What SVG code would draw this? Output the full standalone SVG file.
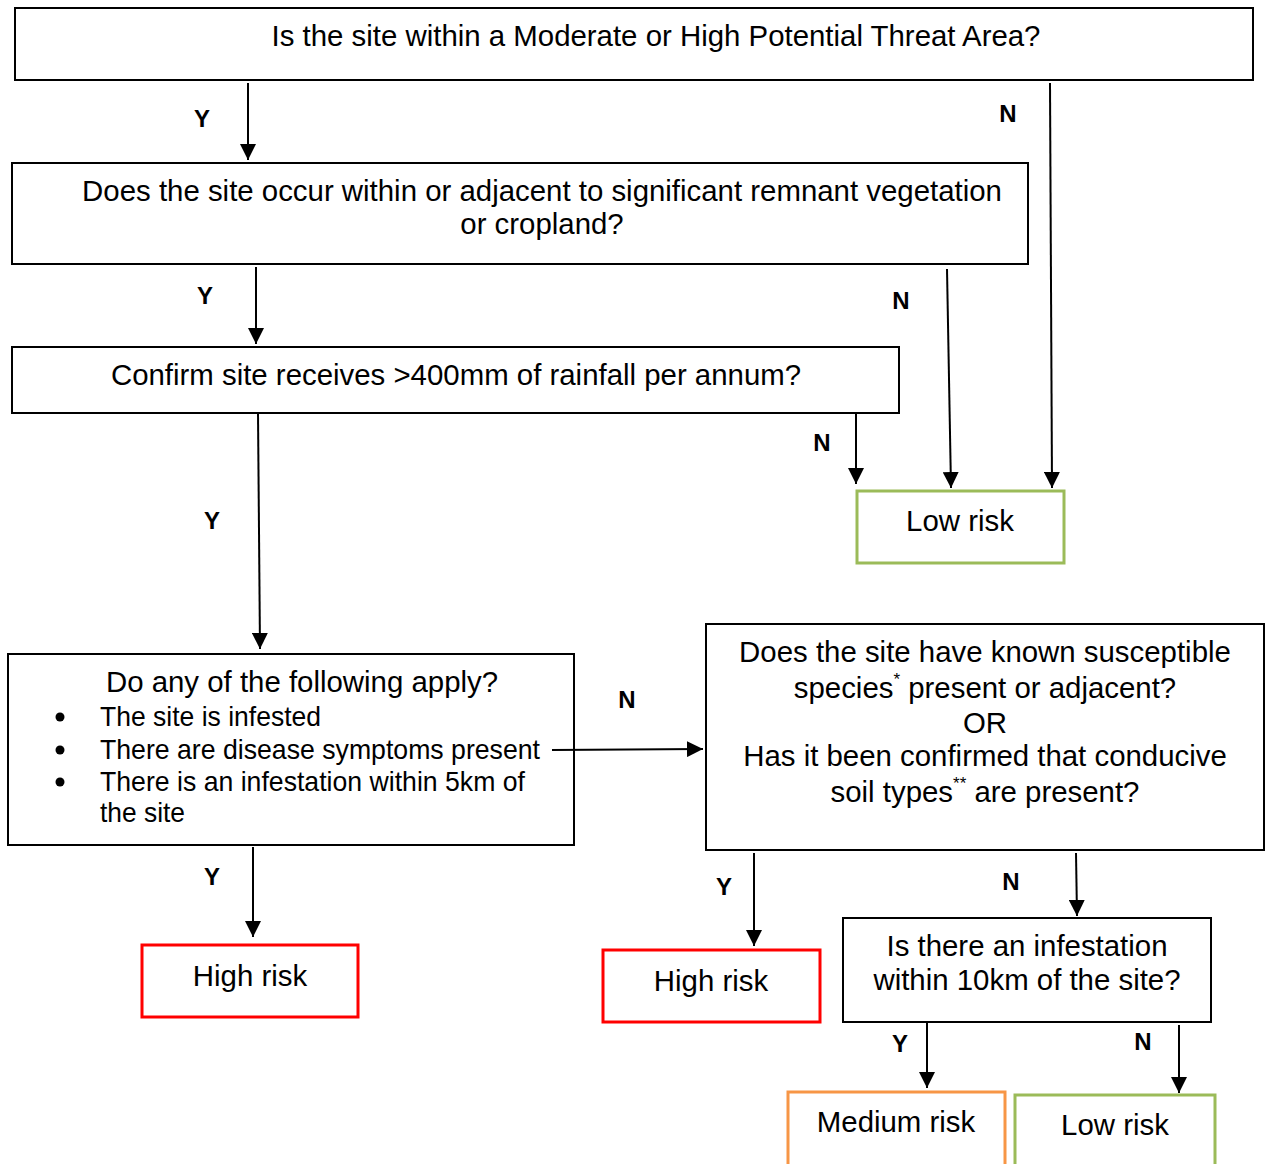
<svg xmlns="http://www.w3.org/2000/svg" width="1265" height="1164" viewBox="0 0 1265 1164">
<style>
text{font-family:"Liberation Sans",Arial,sans-serif;fill:#000}
.t{font-size:29.4px}
.c{text-anchor:middle}
.lbl{font-size:24px;font-weight:bold;text-anchor:middle}
.box{fill:#fff;stroke:#000;stroke-width:2}
.red{fill:#fff;stroke:#ff0000;stroke-width:3}
.green{fill:#fff;stroke:#9bbb59;stroke-width:3}
.orange{fill:#fff;stroke:#f79646;stroke-width:3}
.ln{stroke:#000;stroke-width:2;fill:none;marker-end:url(#ah)}
.sup{font-size:17px}
.b{font-size:28px}
</style>
<defs>
<marker id="ah" markerUnits="userSpaceOnUse" markerWidth="16" markerHeight="16" viewBox="0 0 16 16" refX="16" refY="8" orient="auto">
<path d="M0,0 L16,8 L0,16 Z" fill="#000"/>
</marker>
</defs>
<rect width="1265" height="1164" fill="#fff"/>
<g id="q1">
<rect class="box" x="15" y="8" width="1238" height="72"/>
<text class="t c" x="656" y="46">Is the site within a Moderate or High Potential Threat Area?</text>
</g>
<g id="q2">
<rect class="box" x="12" y="163" width="1016" height="101"/>
<text class="t c" x="542" y="201">Does the site occur within or adjacent to significant remnant vegetation</text>
<text class="t c" x="542" y="234">or cropland?</text>
</g>
<g id="q3">
<rect class="box" x="12" y="347" width="887" height="66"/>
<text class="t c" x="456" y="385">Confirm site receives &gt;400mm of rainfall per annum?</text>
</g>
<g id="low1">
<rect class="green" x="857" y="491" width="207" height="72"/>
<text class="t c" x="960" y="531">Low risk</text>
</g>
<g id="q4">
<rect class="box" x="8" y="654" width="566" height="191"/>
<text class="t c" x="302" y="692">Do any of the following apply?</text>
<circle cx="60" cy="717" r="4.5"/>
<circle cx="60" cy="750" r="4.5"/>
<circle cx="60" cy="782" r="4.5"/>
<text class="b" x="100" y="726" textLength="221" lengthAdjust="spacingAndGlyphs">The site is infested</text>
<text class="b" x="100" y="759" textLength="440" lengthAdjust="spacingAndGlyphs">There are disease symptoms present</text>
<text class="b" x="100" y="791" textLength="425" lengthAdjust="spacingAndGlyphs">There is an infestation within 5km of</text>
<text class="b" x="100" y="822" textLength="85" lengthAdjust="spacingAndGlyphs">the site</text>
</g>
<g id="q5">
<rect class="box" x="706" y="624" width="558" height="226"/>
<text class="t c" x="985" y="662">Does the site have known susceptible</text>
<text class="t c" x="985" y="698">species<tspan class="sup" dy="-13">*</tspan><tspan dy="13"> present or adjacent?</tspan></text>
<text class="t c" x="985" y="733">OR</text>
<text class="t c" x="985" y="766">Has it been confirmed that conducive</text>
<text class="t c" x="985" y="802">soil types<tspan class="sup" dy="-13">**</tspan><tspan dy="13"> are present?</tspan></text>
</g>
<g id="high1">
<rect class="red" x="142" y="945" width="216" height="72"/>
<text class="t c" x="250" y="986">High risk</text>
</g>
<g id="high2">
<rect class="red" x="603" y="950" width="217" height="72"/>
<text class="t c" x="711" y="991">High risk</text>
</g>
<g id="q6">
<rect class="box" x="843" y="918" width="368" height="104"/>
<text class="t c" x="1027" y="956">Is there an infestation</text>
<text class="t c" x="1027" y="990">within 10km of the site?</text>
</g>
<g id="medium">
<rect class="orange" x="788" y="1092" width="217" height="80"/>
<text class="t c" x="896" y="1132">Medium risk</text>
</g>
<g id="low2">
<rect class="green" x="1015" y="1095" width="200" height="80"/>
<text class="t c" x="1115" y="1135">Low risk</text>
</g>
<g id="connectors">
<line class="ln" x1="248" y1="83" x2="248" y2="160"/>
<line class="ln" x1="1050" y1="83" x2="1052" y2="488"/>
<line class="ln" x1="256" y1="267" x2="256" y2="344"/>
<line class="ln" x1="947" y1="269" x2="951" y2="488"/>
<line class="ln" x1="856" y1="412" x2="856" y2="484"/>
<line class="ln" x1="258" y1="413" x2="260" y2="649"/>
<line class="ln" x1="552" y1="750" x2="703" y2="749"/>
<line class="ln" x1="253" y1="847" x2="253" y2="937"/>
<line class="ln" x1="754" y1="853" x2="754" y2="946"/>
<line class="ln" x1="1076" y1="853" x2="1077" y2="916"/>
<line class="ln" x1="927" y1="1021" x2="927" y2="1088"/>
<line class="ln" x1="1179" y1="1025" x2="1179" y2="1093"/>
<text class="lbl" x="202" y="127">Y</text>
<text class="lbl" x="1008" y="122">N</text>
<text class="lbl" x="205" y="304">Y</text>
<text class="lbl" x="901" y="309">N</text>
<text class="lbl" x="822" y="451">N</text>
<text class="lbl" x="212" y="529">Y</text>
<text class="lbl" x="627" y="708">N</text>
<text class="lbl" x="212" y="885">Y</text>
<text class="lbl" x="724" y="895">Y</text>
<text class="lbl" x="1011" y="890">N</text>
<text class="lbl" x="900" y="1052">Y</text>
<text class="lbl" x="1143" y="1050">N</text>
</g>
</svg>
